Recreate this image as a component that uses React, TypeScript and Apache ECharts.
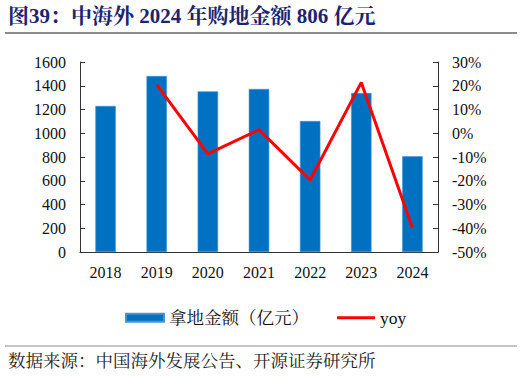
import React, { useEffect, useRef } from "react";
import * as echarts from "echarts";

const categories = ["2018", "2019", "2020", "2021", "2022", "2023", "2024"];
const landAmount = [1230, 1482, 1353, 1373, 1103, 1339, 806];
const yoy = [null, 20.5, -8.7, 1.5, -19.7, 21.4, -39.8];
const titleText = "图39：中海外 2024 年购地金额 806 亿元";
const sourceText = "数据来源：中国海外发展公告、开源证券研究所";
const barName = "拿地金额（亿元）";
const lineName = "yoy";

const FONT = "'Liberation Serif', 'Noto Serif CJK SC', 'Noto Sans CJK SC', serif";

export default function App() {
  const ref = useRef<HTMLDivElement>(null);
  useEffect(() => {
    document.body.style.margin = "0";
    if (!ref.current) return;
    const chart = echarts.init(ref.current, null, { renderer: "svg" });
    chart.setOption({
      animation: false,
      backgroundColor: "#ffffff",
      textStyle: { fontFamily: FONT },
      graphic: [
        {
          type: "text",
          left: 8,
          top: 5,
          style: {
            text: titleText,
            fontFamily: FONT,
            fontSize: 21,
            fontWeight: "bold",
            fill: "#1B2470",
          },
        },
        {
          type: "line",
          shape: { x1: 5, y1: 33, x2: 517, y2: 33 },
          style: { stroke: "#8c8c8c", lineWidth: 2 },
        },
        {
          type: "line",
          shape: { x1: 5, y1: 346, x2: 517, y2: 346 },
          style: { stroke: "#8c8c8c", lineWidth: 1 },
        },
        {
          type: "text",
          left: 8,
          top: 352,
          style: {
            text: sourceText,
            fontFamily: FONT,
            fontSize: 17.5,
            fill: "#222222",
          },
        },
      ],
      legend: {
        top: 304,
        left: 120,
        itemGap: 28,
        itemWidth: 38,
        itemHeight: 8,
        textStyle: { fontFamily: FONT, fontSize: 17.5, color: "#111" },
        data: [
          { name: barName, icon: "rect" },
          { name: lineName, icon: "path://M0,0 L38,0 L38,3 L0,3 Z", itemStyle: { color: "#FF0000" } },
        ],
      },
      grid: { left: 80, right: 84, top: 62, bottom: 125 },
      xAxis: {
        type: "category",
        data: categories,
        axisLine: { lineStyle: { color: "#333", width: 1 } },
        axisTick: { inside: true, length: 5, lineStyle: { color: "#333" } },
        axisLabel: { fontFamily: FONT, fontSize: 16, color: "#111", margin: 12 },
      },
      yAxis: [
        {
          type: "value",
          min: 0,
          max: 1600,
          interval: 200,
          splitLine: { show: false },
          axisLine: { show: true, lineStyle: { color: "#333" } },
          axisTick: { show: true, inside: true, length: 5, lineStyle: { color: "#333" } },
          axisLabel: {
            fontFamily: FONT,
            fontSize: 16,
            color: "#111",
            margin: 14,
            formatter: (v: number) => `${v}`,
          },
        },
        {
          type: "value",
          min: -50,
          max: 30,
          interval: 10,
          splitLine: { show: false },
          axisLine: { show: true, lineStyle: { color: "#333" } },
          axisTick: { show: true, inside: true, length: 5, lineStyle: { color: "#333" } },
          axisLabel: {
            fontFamily: FONT,
            fontSize: 16,
            color: "#111",
            margin: 14,
            formatter: (v: number) => `${v}%`,
          },
        },
      ],
      series: [
        {
          name: barName,
          type: "bar",
          data: landAmount,
          barWidth: "40%",
          itemStyle: { color: "#0070C0", borderColor: "#4a94d0", borderWidth: 0.6 },
        },
        {
          name: lineName,
          type: "line",
          yAxisIndex: 1,
          data: yoy,
          symbol: "none",
          showSymbol: false,
          lineStyle: { color: "#FF0000", width: 3 },
          itemStyle: { color: "#FF0000" },
        },
      ],
    });
    return () => chart.dispose();
  }, []);
  return <div ref={ref} style={{ width: 522, height: 377 }} />;
}
